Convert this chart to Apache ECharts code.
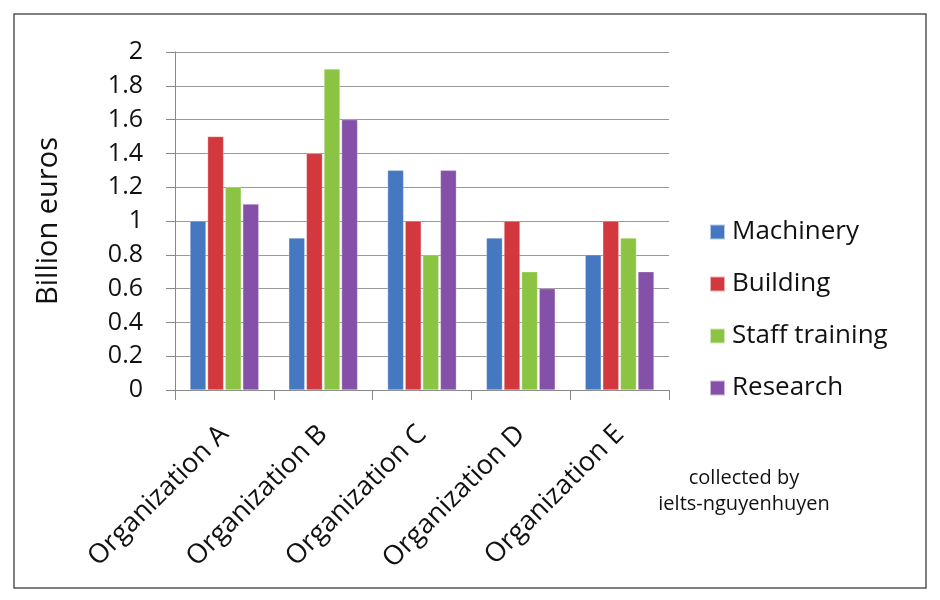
<!DOCTYPE html>
<html>
<head>
<meta charset="utf-8">
<script src="https://cdn.jsdelivr.net/npm/echarts@6/dist/echarts.min.js"></script>
<style>
  html, body { margin: 0; padding: 0; background: #fff; }
  #main { width: 940px; height: 600px; }
</style>
</head>
<body>
<div id="main"></div>
<script>
// data (billion euros)
var organizations = ['Organization A', 'Organization B', 'Organization C', 'Organization D', 'Organization E'];
var machinery = [1.0, 0.9, 1.3, 0.9, 0.8];
var building = [1.5, 1.4, 1.0, 1.0, 1.0];
var staffTraining = [1.2, 1.9, 0.8, 0.7, 0.9];
var research = [1.1, 1.6, 1.3, 0.6, 0.7];

var font = '"Open Sans", "Noto Sans", sans-serif';

var chart = echarts.init(document.getElementById('main'), null, { renderer: 'canvas' });

function bar(name, data, color) {
  return {
    name: name,
    type: 'bar',
    data: data,
    barWidth: 16,
    barGap: '10%',
    itemStyle: { color: color, borderColor: 'rgba(255,255,255,0.6)', borderWidth: 0.5 }
  };
}

var option = {
  backgroundColor: '#fff',
  animation: false,
  textStyle: { fontFamily: font },
  grid: { left: 175, right: 271, top: 52, bottom: 210 },
  legend: {
    orient: 'vertical',
    left: 704,
    top: 214,
    itemWidth: 15,
    itemHeight: 15,
    itemGap: 26,
    icon: 'rect',
    textStyle: { fontSize: 26, lineHeight: 26, color: '#111', fontFamily: font, padding: [0, 0, 0, 2] },
    data: ['Machinery', 'Building', 'Staff training', 'Research']
  },
  xAxis: {
    type: 'category',
    data: organizations,
    axisLine: { lineStyle: { color: '#888', width: 1 } },
    axisTick: { show: true, length: 10, lineStyle: { color: '#888' } },
    axisLabel: { rotate: 45, margin: 40, fontSize: 27, color: '#111', fontFamily: font, interval: 0 }
  },
  yAxis: {
    type: 'value',
    min: 0,
    max: 2,
    interval: 0.2,
    name: 'Billion euros',
    nameLocation: 'middle',
    nameGap: 112,
    nameRotate: 90,
    nameTextStyle: { fontSize: 29, color: '#111', fontFamily: font },
    axisLine: { show: true, lineStyle: { color: '#888' } },
    axisTick: { show: true, length: 9, lineStyle: { color: '#888' } },
    splitLine: { lineStyle: { color: '#999', width: 1 } },
    axisLabel: {
      margin: 32, fontSize: 25, color: '#111', fontFamily: font,
      formatter: function (v) { return String(Math.round(v * 10) / 10); }
    }
  },
  graphic: [
    {
      type: 'rect',
      shape: { x: 14, y: 14, width: 912, height: 574 },
      style: { fill: 'none', stroke: '#555', lineWidth: 1.5 },
      silent: true
    },
    {
      type: 'text',
      x: 744, y: 478,
      style: { text: 'collected by', fontSize: 20, fill: '#111', fontFamily: font, align: 'center', verticalAlign: 'middle' }
    },
    {
      type: 'text',
      x: 744, y: 504,
      style: { text: 'ielts-nguyenhuyen', fontSize: 20, fill: '#111', fontFamily: font, align: 'center', verticalAlign: 'middle' }
    }
  ],
  series: [
    bar('Machinery', machinery, '#4677c1'),
    bar('Building', building, '#d2383d'),
    bar('Staff training', staffTraining, '#8bc443'),
    bar('Research', research, '#8551a8')
  ]
};

chart.setOption(option);
</script>
</body>
</html>
